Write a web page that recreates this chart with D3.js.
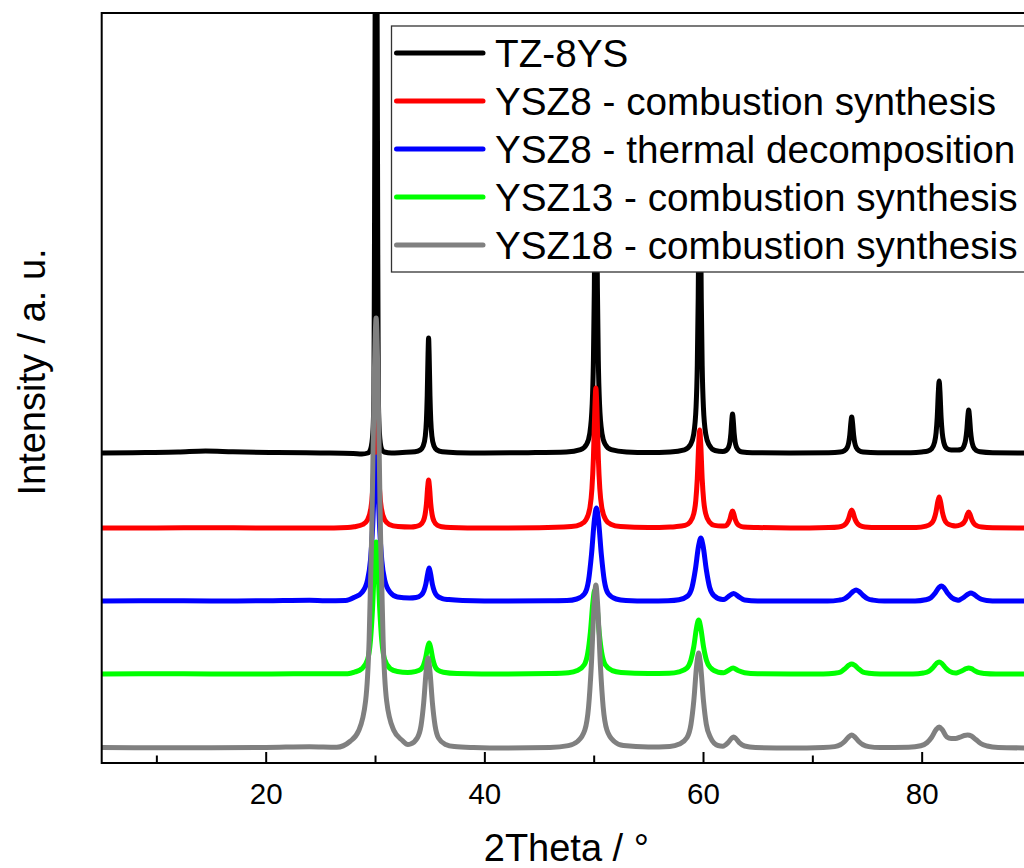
<!DOCTYPE html>
<html><head><meta charset="utf-8">
<script src="https://cdn.jsdelivr.net/npm/d3@7/dist/d3.min.js"></script>
<style>
body{margin:0;background:#fff}
svg{display:block}
text{font-family:"Liberation Sans",Arial,sans-serif;fill:#000}
</style>
</head><body>
<svg id="chart" width="1024" height="868"></svg>
<script>
// ---------- data ----------
const xMajorTicks = [20, 40, 60, 80];
const xMinorTicks = [10, 30, 50, 70, 90];
const seriesNames = ["TZ-8YS", "YSZ8 - combustion synthesis", "YSZ8 - thermal decomposition", "YSZ13 - combustion synthesis", "YSZ18 - combustion synthesis"];
const seriesColors = ["#000000", "#ff0000", "#0000ff", "#00ff00", "#808080"];

// [2Theta (deg), intensity (a.u., stacked with offsets)]
const tz8ys = [[5,310],[9,310.5],[12,311],[14.5,312],[17,311.2],[21,310.5],[25,310],[28,309.5],[28.8,309],
[29.35,310],[29.6,314],[29.8,330],[29.9,370],[29.96,560],[30.02,800],[30.1,1050],[30.18,800],[30.24,560],[30.3,370],[30.4,330],[30.6,314],[30.85,311],[31.5,310],[32.5,310.5],
[33.65,311.2],[34.15,313.1],[34.4,316.8],[34.6,327],[34.7,342.3],[34.775,367.5],[34.85,409],[34.9,425],[34.95,409],[35.025,367.5],[35.1,342.3],[35.2,327],[35.4,316.8],[35.65,313.1],[36.15,311.2],[37.5,310.3],
[40,310],[44,310.3],[47.5,311],
[48.8,313.3],[49.36,318.9],[49.64,329.5],[49.864,358.8],[49.976,402.7],[50.06,475],[50.144,594.5],[50.2,640],[50.256,594.5],[50.34,475],[50.424,402.7],[50.536,358.8],[50.76,329.5],[51.04,318.9],[51.6,313.3],[53,311],
[55,310.5],[57,311],
[58.3,313.1],[58.86,318.4],[59.14,328.3],[59.364,355.9],[59.476,397.1],[59.56,465],[59.644,577.2],[59.7,620],[59.756,577.2],[59.84,465],[59.924,397.1],[60.036,355.9],[60.26,328.3],[60.54,318.4],[61.1,312.5],
[61.8,311.5],[62.1,312.5],[62.34,315.8],[62.46,321],[62.55,329.5],[62.64,343.6],[62.7,349],[62.76,343.6],[62.85,329.5],[62.94,321],[63.06,315.8],[63.3,312.3],[63.6,311],[64.5,310.3],
[68,310],[71.5,310.3],
[72.55,311],[72.9,312.1],[73.18,315.3],[73.32,320.1],[73.425,328],[73.53,341],[73.6,346],[73.67,341],[73.775,328],[73.88,320.1],[74.02,315.3],[74.3,312.1],[74.65,311],[76,310.2],
[79,310.3],[80,311],
[80.55,311.9],[80.9,314.2],[81.18,320.7],[81.32,330.2],[81.425,346],[81.53,372.1],[81.6,382],[81.67,372.1],[81.775,346],[81.88,330.2],[82.02,320.7],[82.3,314.5],[82.7,313],
[83.3,313],[83.6,313.5],[83.88,317.4],[84.02,323.1],[84.125,332.5],[84.23,347.6],[84.3,353],[84.37,347.1],[84.475,331.5],[84.58,322.1],[84.72,316.4],[85,312.5],[85.35,311.2],[86.5,310.3],[90,310]];

const ysz8Comb = [[5,235],[10,235],[15,235.3],[20,235],[25,235],[27.5,235.5],
[28.1,236.3],[28.9,238.6],[29.3,242.8],[29.62,254.7],[29.78,272.4],[29.9,301.5],[30.02,349.6],[30.1,368],[30.18,349.6],[30.3,301.5],[30.42,272.4],[30.58,254.7],[30.9,242.8],[31.3,238.6],[32.1,236.5],
[33.3,236],[33.7,236.5],[34.1,237.8],[34.42,242.1],[34.58,248.5],[34.7,259],[34.82,276.4],[34.9,283],[34.98,276.4],[35.1,259],[35.22,248.5],[35.38,242.1],[35.7,237.8],[36.1,236.3],[36.9,235.5],
[40,235],[45,235.2],
[47.95,236.4],[48.85,238.8],[49.3,243.3],[49.66,255.7],[49.84,274.3],[49.975,305],[50.11,355.7],[50.2,375],[50.29,355.7],[50.425,305],[50.56,274.3],[50.74,255.7],[51.1,243.3],[51.55,238.8],[52.45,236.4],
[55,235.5],[57,236],
[57.45,236.3],[58.35,237.6],[58.8,240.8],[59.16,249.5],[59.34,262.5],[59.475,284],[59.61,319.5],[59.7,333],[59.79,319.5],[59.925,284],[60.06,262.5],[60.24,249.5],[60.6,240.8],[61.05,237.6],
[61.7,237],[62.1,237.3],[62.3,239.8],[62.45,243.5],[62.6,249.7],[62.7,252],[62.8,249.7],[62.95,243.5],[63.1,239.8],[63.3,237.5],[63.7,236],[65,235.5],
[68,235],[71.5,235.5],
[72.4,236.1],[72.88,237.7],[73.12,240.1],[73.3,244],[73.48,250.5],[73.6,253],[73.72,250.5],[73.9,244],[74.08,240.1],[74.32,237.7],[74.8,236.1],[76,235.5],
[79.5,235.5],[80.4,236.8],[80.88,239.6],[81.12,243.7],[81.3,250.5],[81.48,261.7],[81.6,266],[81.72,261.7],[81.9,250.5],[82.08,243.7],[82.32,239.6],[82.8,237.5],[83.1,237],
[83.58,238.2],[83.82,240],[84.0,243],[84.18,248.8],[84.3,251],[84.42,248.8],[84.6,243],[84.78,239.5],[85.02,237.4],[85.5,236],[86.5,235.3],[90,235]];

const ysz8Therm = [[5,162],[10,162.3],[15,162],[20,162.3],[24,162.8],[25.5,162.3],[27.3,162.5],
[28.15,165.9],[28.8,170.5],[29.32,183.3],[29.58,202.5],[29.775,234],[29.97,286.1],[30.1,306],[30.23,286.1],[30.425,234],[30.62,202.5],[30.88,183.3],[31.4,170.5],[32.05,166],
[33.15,165],[33.75,165.5],[34.23,168],[34.47,172.2],[34.65,179],[34.83,190],[34.95,195],[35.07,190],[35.25,178.5],[35.43,171.6],[35.67,167.2],[36.15,164.4],[36.75,163.4],[38,162.5],
[42,162],[46,162.3],
[47.55,162.5],[48.45,164],[49.17,169.4],[49.53,182.5],[49.8,208.5],[50.07,243.8],[50.25,255],[50.43,243.8],[50.7,208.5],[50.97,182.5],[51.33,169.4],[52.05,164],[52.95,162.5],
[55,162],
[56.8,162.3],[57.8,163.3],[58.6,167],[59.0,175.9],[59.3,193.5],[59.6,217.4],[59.8,225],[60.0,217.4],[60.3,193.5],[60.6,175.9],[61.0,167.4],[61.8,163.4],
[62.0,163.8],[62.3,166.3],[62.8,169.5],[63.3,166],[63.8,163],[65,162],
[68,162],[71.4,162],
[72.44,162.9],[72.96,164.4],[73.35,167.5],[73.74,171.7],[74.0,173],[74.26,171.7],[74.65,167.5],[75.04,164.4],[75.56,162.9],[76.6,162],
[79.4,162],[80.36,163.2],[80.84,165.3],[81.2,169.5],[81.56,175.2],[81.8,177],[82.04,175.2],[82.4,169.5],[82.76,165.3],[83.24,163],[83.4,162.8],
[83.54,163.6],[83.9,166],[84.26,169],[84.5,170],[84.74,169],[85.1,166],[85.46,163.8],[85.94,162.6],[87,162],[90,162]];

const ysz13Comb = [[5,89],[10,89.3],[15,89],[20,89],[25,89.3],[27.5,89.3],
[28.15,91],[28.8,94.3],[29.32,103.5],[29.58,122],[29.775,155],[29.97,203.8],[30.1,221],[30.23,203.8],[30.425,155],[30.62,122],[30.88,103.5],[31.4,94.3],[32.05,91.5],[33,90.5],
[33.65,91.4],[34.17,93.5],[34.43,97.6],[34.625,104.9],[34.82,115.8],[34.95,120],[35.08,115.8],[35.275,104.5],[35.47,97],[35.73,93],[36.25,90.8],[37.5,89.5],
[42,89],[46,89.5],
[47.7,90.3],[48.5,92.4],[49.14,98.2],[49.46,110],[49.7,131],[49.94,162.1],[50.1,173],[50.26,162.1],[50.5,131],[50.74,110],[51.06,98.2],[51.7,92.4],[52.5,90.5],
[55,89.5],
[56.9,89.8],[57.8,91.2],[58.52,94.9],[58.88,102.5],[59.15,116],[59.42,136],[59.6,143],[59.78,136],[60.05,116],[60.32,102.5],[60.68,95.3],[61.4,90.8],
[61.9,90.3],[62.3,92.5],[62.75,95],[63.2,92.5],[63.8,90.3],[65,89.3],
[68,89],[71,89],
[72.04,89.8],[72.56,90.8],[72.95,94],[73.34,97.8],[73.6,99],[73.86,97.8],[74.25,94],[74.64,90.8],[75.16,89.8],[76.2,89],
[79.2,89],[80.16,90],[80.64,91.6],[81.0,95],[81.36,99.6],[81.6,101],[81.84,99.6],[82.2,95],[82.56,91.6],[83.1,90],[83.34,90.6],[83.7,92.2],[84.06,94.3],[84.3,95],[84.54,94.3],[84.9,92],[85.26,90.3],[85.74,89.5],[86.8,89],[90,89]];

const ysz18Comb = [[5,15.5],[10,15.3],[15,15.3],[20,15.5],[24,16.3],[26.5,15.8],
[27.7,21.5],[28.5,32.2],[29.14,62.3],[29.46,122.5],[29.7,230],[29.94,389.1],[30.1,445],[30.26,389.1],[30.5,230],[30.74,122.5],[31.06,62.3],[31.7,33],[32.5,22.5],[33.0,18.5],
[33.25,19],[33.89,25.5],[34.21,37.5],[34.45,60],[34.69,93.3],[34.85,105],[35.01,93.3],[35.25,60],[35.49,37.5],[35.81,24.9],[36.45,18.6],[37.25,16.4],[39,15.5],
[42,15],[46,15.5],
[47.68,17.4],[48.52,21.5],[49.19,32.9],[49.53,55.75],[49.78,96.5],[50.03,156.8],[50.2,178],[50.37,156.8],[50.62,96.5],[50.87,55.75],[51.21,32.9],[51.88,21.5],[52.72,17.4],
[55,16],
[56.96,16.6],[57.84,19],[58.54,25.5],[58.9,38.75],[59.16,62.5],[59.42,97.7],[59.6,110],[59.78,97.7],[60.04,62.5],[60.3,38.75],[60.66,26],[61.36,17.5],
[61.8,16.8],[62.3,20.5],[62.6,24.5],[62.8,26],[63.0,24.5],[63.3,20.5],[63.8,17],[64.8,15.5],
[68,15],[71,15.5],
[72.04,16.4],[72.56,18.25],[72.95,21.5],[73.34,26.3],[73.6,28],[73.86,26.3],[74.25,21.5],[74.64,18.25],[75.16,16.4],[76.2,15.5],
[78.8,15.8],[79.92,17.3],[80.48,20.25],[80.9,25.5],[81.32,33.3],[81.6,36],[81.88,33.3],[82.3,26],[82.7,24.5],[83.1,24.5],[83.5,25.8],[83.9,27.5],[84.2,28],[84.55,27],[84.95,23.5],[85.4,19.5],[86,17],[87,15.5],[90,15]];

const seriesData = [tz8ys, ysz8Comb, ysz8Therm, ysz13Comb, ysz18Comb];

// ---------- layout ----------
const plotL = 101.7, plotR = 1031, plotT = 13, plotB = 763;
const svg = d3.select("#chart");
const x = d3.scaleLinear().domain([5, 90]).range([plotL, plotR]);
const y = d3.scaleLinear().domain([0, 750]).range([plotB, plotT]);

svg.append("defs").append("clipPath").attr("id", "plotClip")
  .append("rect").attr("x", plotL).attr("y", plotT).attr("width", plotR - plotL).attr("height", plotB - plotT);

const line = d3.line().x(d => x(d[0])).y(d => y(d[1])).curve(d3.curveMonotoneX);

const gLines = svg.append("g").attr("clip-path", "url(#plotClip)");
seriesData.forEach((s, i) => {
  gLines.append("path").datum(s)
    .attr("d", line)
    .attr("fill", "none")
    .attr("stroke", seriesColors[i])
    .attr("stroke-width", 5)
    .attr("stroke-linejoin", "round")
    .attr("stroke-linecap", "round");
});

// axes
const axMajor = d3.axisBottom(x).tickValues(xMajorTicks).tickSizeInner(-11).tickSizeOuter(0).tickPadding(20.2).tickFormat(d3.format("d"));
const gx = svg.append("g").attr("transform", `translate(0,${plotB})`).call(axMajor);
gx.select(".domain").remove();
gx.selectAll(".tick line").attr("stroke", "#000").attr("stroke-width", 2);
gx.selectAll(".tick text").attr("font-size", 29.5).attr("font-family", '"Liberation Sans",Arial,sans-serif').attr("fill", "#000");

const axMinor = d3.axisBottom(x).tickValues(xMinorTicks).tickSizeInner(-7.5).tickSizeOuter(0).tickFormat("");
const gxm = svg.append("g").attr("transform", `translate(0,${plotB})`).call(axMinor);
gxm.select(".domain").remove();
gxm.selectAll(".tick line").attr("stroke", "#000").attr("stroke-width", 2);

// frame
svg.append("rect").attr("x", plotL).attr("y", plotT).attr("width", plotR - plotL).attr("height", plotB - plotT)
  .attr("fill", "none").attr("stroke", "#000").attr("stroke-width", 2);

// axis titles
svg.append("text").attr("x", (plotL + plotR) / 2).attr("y", 861).attr("text-anchor", "middle")
  .attr("font-size", 38).text("2Theta / °");
svg.append("text").attr("transform", "translate(45,372) rotate(-90)").attr("text-anchor", "middle")
  .attr("font-size", 38).text("Intensity / a. u.");

// legend
const lg = svg.append("g");
lg.append("rect").attr("x", 391.5).attr("y", 26).attr("width", 700).attr("height", 246)
  .attr("fill", "#fff").attr("stroke", "#333").attr("stroke-width", 1.3);
seriesNames.forEach((n, i) => {
  const cy = 53 + i * 48;
  lg.append("line").attr("x1", 396.5).attr("x2", 483).attr("y1", cy).attr("y2", cy)
    .attr("stroke", seriesColors[i]).attr("stroke-width", 5).attr("stroke-linecap", "round");
  lg.append("text").attr("x", 495).attr("y", cy + 13.5).attr("font-size", 38.7).text(n);
});
</script>
</body></html>
